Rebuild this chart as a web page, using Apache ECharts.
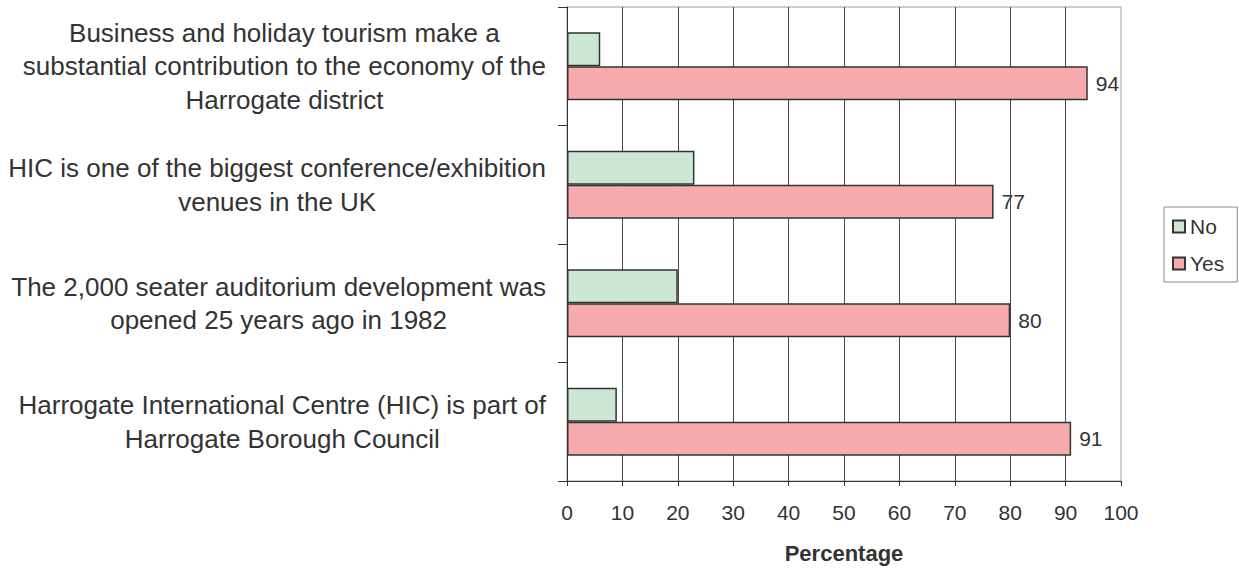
<!DOCTYPE html>
<html>
<head>
<meta charset="utf-8">
<script src="https://cdn.jsdelivr.net/npm/echarts@6/dist/echarts.min.js"></script>
<style>
html, body { margin: 0; padding: 0; background: #fff; }
#chart { width: 1239px; height: 569px; }
</style>
</head>
<body>
<div id="chart"></div>
<script>
const categories = [
  'Harrogate International Centre (HIC) is part of\nHarrogate Borough Council',
  'The 2,000 seater auditorium development was\nopened 25 years ago in 1982',
  'HIC is one of the biggest conference/exhibition\nvenues in the UK',
  'Business and holiday tourism make a\nsubstantial contribution to the economy of the\nHarrogate district'
];
const noValues = [9, 20, 23, 6];
const yesValues = [91, 80, 77, 94];
const seriesNames = ['No', 'Yes'];
const xTicks = { min: 0, max: 100, interval: 10 };

const FONT = "'Liberation Sans', Arial, Helvetica, sans-serif";
const TXT = '#333';

const chart = echarts.init(document.getElementById('chart'), null, { renderer: 'svg' });
chart.setOption({
  animation: false,
  textStyle: { fontFamily: FONT, color: TXT },
  grid: {
    left: 567, right: 118, top: 7, bottom: 86,
    show: true, borderColor: '#a39c9c', borderWidth: 1, backgroundColor: 'transparent'
  },
  legend: {
    data: seriesNames,
    orient: 'vertical',
    left: 1164, top: 207,
    padding: [9, 13, 8, 8],
    itemGap: 16,
    itemWidth: 12, itemHeight: 12,
    icon: 'rect',
    borderColor: '#8a8a8a', borderWidth: 1,
    textStyle: { fontFamily: FONT, fontSize: 21, color: TXT }
  },
  xAxis: {
    type: 'value',
    min: xTicks.min, max: xTicks.max, interval: xTicks.interval,
    name: 'Percentage',
    nameLocation: 'middle',
    nameGap: 61,
    nameTextStyle: { fontFamily: FONT, fontSize: 22, fontWeight: 'bold', color: TXT },
    axisLine: { show: true, lineStyle: { color: '#333', width: 1 } },
    axisTick: { show: true, length: 5, lineStyle: { color: '#333' } },
    axisLabel: { fontFamily: FONT, fontSize: 21, color: TXT, margin: 21 },
    splitLine: { show: true, showMaxLine: false, lineStyle: { color: '#4a4a4a', width: 1 } }
  },
  yAxis: {
    type: 'category',
    data: categories,
    axisLine: { show: true, lineStyle: { color: '#333', width: 1 } },
    axisTick: { show: true, length: 9, alignWithLabel: false, lineStyle: { color: '#333' } },
    axisLabel: {
      margin: 21,
      align: 'right',
      formatter: function (v) {
        return v.split('\n').map(function (l) { return '{c|' + l + '}'; }).join('\n');
      },
      rich: {
        c: { align: 'center', fontFamily: FONT, fontSize: 26, color: TXT, lineHeight: 33.5 }
      }
    },
    splitLine: { show: false }
  },
  series: [
    {
      name: seriesNames[0], type: 'bar', data: noValues,
      barWidth: 34, barGap: '0%',
      itemStyle: { color: '#cce8d5', borderColor: '#333', borderWidth: 1.5 }
    },
    {
      name: seriesNames[1], type: 'bar', data: yesValues,
      barWidth: 34, barGap: '0%',
      itemStyle: { color: '#f7abad', borderColor: '#333', borderWidth: 1.5 },
      label: { show: true, position: 'right', distance: 8, fontFamily: FONT, fontSize: 21, color: TXT }
    }
  ]
});
</script>
</body>
</html>
